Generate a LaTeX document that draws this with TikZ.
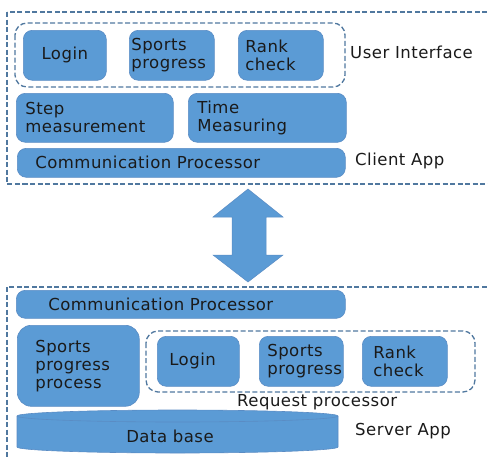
\documentclass[tikz,border=0pt]{standalone}
\usepackage{fontspec}
\setmainfont[LetterSpace=3]{DejaVu Sans}
\definecolor{boxblue}{HTML}{5B9BD5}
\definecolor{boxedge}{HTML}{5A8CC4}
\definecolor{dashblue}{HTML}{50789F}
\definecolor{txt}{HTML}{1A1A1A}
\tikzset{
  box/.style={draw=boxedge, fill=boxblue, rounded corners=9pt, line width=0.6pt,
    text=txt, align=left, inner ysep=0pt, anchor=north west,
    font=\fontsize{16.5}{18}\selectfont},
  grp/.style={draw=dashblue, dash pattern=on 5pt off 2.5pt, line width=1.3pt},
  lbl/.style={text=txt, anchor=west, inner sep=0pt, font=\fontsize{16.5}{18}\selectfont},
}
\begin{document}
\begin{tikzpicture}[x=1pt,y=-1pt]
\clip (0,0) rectangle (488,456);
% outer frames
\draw[grp] (7,12) rectangle (495,184);
\draw[grp] (7,287) rectangle (495,470);
% client
\draw[grp, rounded corners=12pt] (15,23) rectangle (345,87);
\node[box, align=center, text width=75pt, inner xsep=4pt, minimum height=50pt] (login1) at (23,30) {Login};
\node[box, text width=81pt, inner xsep=2pt, minimum height=50pt] (sp1) at (129,30) {Sports\\progress};
\node[box, text width=71pt, inner xsep=7pt, minimum height=50pt] (rank1) at (238,30) {Rank\\check};
\node[box, text width=139pt, inner xsep=9pt, minimum height=49pt] (step) at (16,93) {Step\\measurement};
\node[box, text width=140pt, inner xsep=9pt, minimum height=49pt] (time) at (188,93) {Time\\Measuring};
\node[box, text width=292pt, inner xsep=18pt, minimum height=29pt] (comm1) at (17,148) {Communication Processor};
\node[lbl] (ui) at (350,52) {User Interface};
\node[lbl] (client) at (355,161) {Client App};
% arrow
\fill[boxblue, draw=boxedge, line width=0.5pt] (248,189) -- (283,217) -- (266,217) -- (266,255) -- (283,255) -- (248,282) -- (213,255) -- (232,255) -- (232,217) -- (213,217) -- cycle;
% server
\node[box, text width=265pt, inner xsep=32pt, minimum height=28pt] (comm2) at (16,290) {Communication Processor};
\node[box, rounded corners=14pt, text width=86pt, inner xsep=18pt, minimum height=81pt] (spp) at (17,325) {Sports\\progress\\process};
\draw[grp, rounded corners=12pt] (146,331) rectangle (475,392);
\node[box, text width=58pt, inner xsep=12pt, minimum height=50pt] (login2) at (157,336) {Login};
\node[box, text width=68pt, inner xsep=8pt, minimum height=50pt] (sp2) at (259,336) {Sports\\progress};
\node[box, text width=63pt, inner xsep=11pt, minimum height=50pt] (rank2) at (362,336) {Rank\\check};
\node[lbl] (req) at (237,402) {Request processor};
% database cylinder
\filldraw[fill=boxblue, draw=boxedge, line width=0.6pt] (17,416) -- (17,447) arc[start angle=180, end angle=360, x radius=160.5, y radius=-6] -- (338,416) arc[start angle=0, end angle=180, x radius=160.5, y radius=-6] -- cycle;
\draw[boxedge, line width=0.6pt] (17,416) arc[start angle=180, end angle=360, x radius=160.5, y radius=-6];
\node[text=txt, inner sep=0pt, font=\fontsize{16.5}{18}\selectfont] (db) at (170,436) {Data base};
\node[lbl] (server) at (355,431) {Server App};
\end{tikzpicture}
\end{document}
